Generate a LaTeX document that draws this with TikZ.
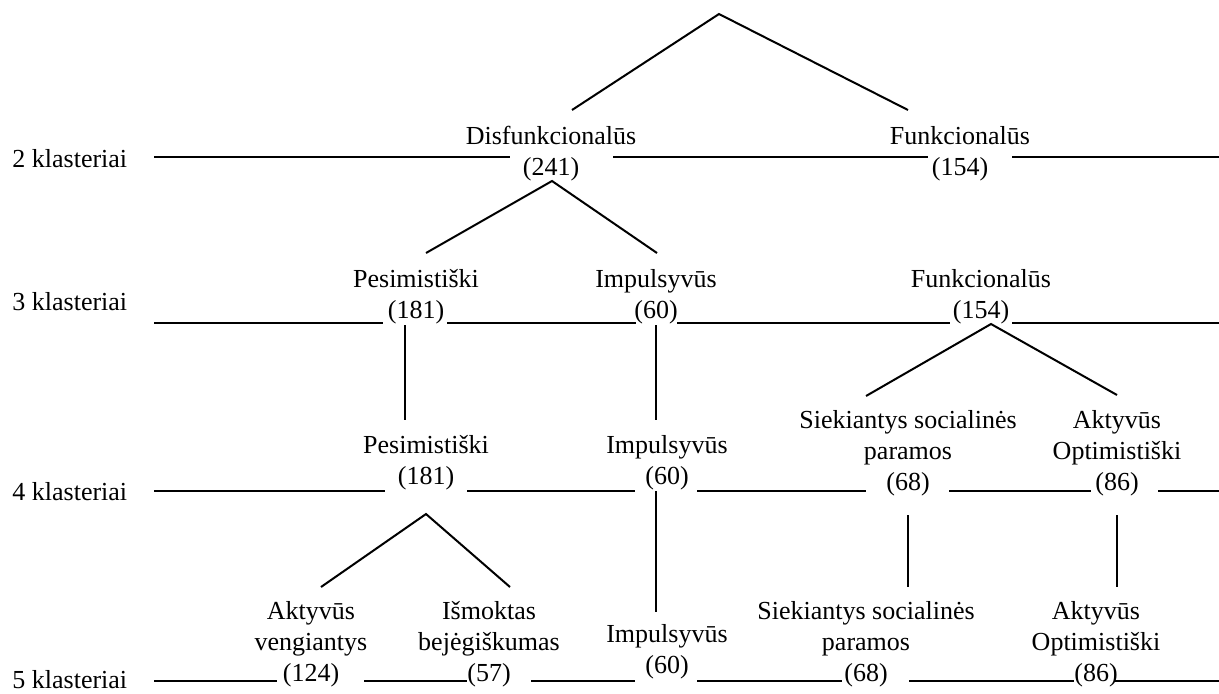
\documentclass[tikz,border=0pt]{standalone}
\usepackage{fontspec}
\setmainfont{Liberation Serif}
\tikzset{
  cluster/.style={align=center,inner sep=0pt,font=\fontsize{13}{15.5}\selectfont},
  levelname/.style={anchor=base west,inner sep=0pt,font=\fontsize{13}{15.5}\selectfont},
  branch/.style={line width=1pt},
  rule/.style={line width=1pt}
}
\begin{document}
\begin{tikzpicture}[x=0.5pt,y=-0.5pt]
  \useasboundingbox (0,0) rectangle (1219,693);
  % level names on the left
  \foreach \y/\n in {167/2,310/3,500/4,688/5}
    \node[levelname] (lvl\n) at (12,\y) {\n{} klasteriai};
  % horizontal rules of each level
  \foreach \y/\a/\b in {157/154/510, 157/613/928, 157/1012/1219,
      323/154/383, 323/447/636, 323/677/950, 323/1012/1219,
      491/154/385, 491/467/635, 491/697/866, 491/949/1091, 491/1158/1219,
      681/154/277, 681/364/467, 681/531/635, 681/697/842, 681/909/1074, 681/1115/1219}
    \draw[rule] (\a,\y) -- (\b,\y);

  % clusters
  \node[cluster] (dis2) at (551,154) {Disfunkcionalūs\\(241)};
  \node[cluster] (fun2) at (960,154) {Funkcionalūs\\(154)};

  \node[cluster] (pes3) at (416,297) {Pesimistiški\\(181)};
  \node[cluster] (imp3) at (656,297) {Impulsyvūs\\(60)};
  \node[cluster] (fun3) at (981,297) {Funkcionalūs\\(154)};

  \node[cluster] (pes4) at (426,463) {Pesimistiški\\(181)};
  \node[cluster] (imp4) at (667,463) {Impulsyvūs\\(60)};
  \node[cluster] (sie4) at (908,453) {Siekiantys socialinės\\paramos\\(68)};
  \node[cluster] (akt4) at (1117,453) {Aktyvūs\\Optimistiški\\(86)};

  \node[cluster] (akv5) at (311,644) {Aktyvūs\\vengiantys\\(124)};
  \node[cluster] (ism5) at (489,644) {Išmoktas\\bejėgiškumas\\(57)};
  \node[cluster] (imp5) at (667,652) {Impulsyvūs\\(60)};
  \node[cluster] (sie5) at (866,644) {Siekiantys socialinės\\paramos\\(68)};
  \node[cluster] (akt5) at (1096,644) {Aktyvūs\\Optimistiški\\(86)};

  % branch ends
  \coordinate (root) at (719,14);
  \coordinate (dis2-t) at (572,110);
  \coordinate (fun2-t) at (908,110);
  \coordinate (dis2-b) at (552,181);
  \coordinate (pes3-t) at (426,253);
  \coordinate (imp3-t) at (657,253);
  \coordinate (pes3-b) at (405,325);
  \coordinate (pes4-t) at (405,420);
  \coordinate (imp3-b) at (656,325);
  \coordinate (imp4-t) at (656,420);
  \coordinate (fun3-b) at (991,324);
  \coordinate (sie4-t) at (866,396);
  \coordinate (akt4-t) at (1117,395);
  \coordinate (pes4-b) at (426,514);
  \coordinate (akv5-t) at (321,587);
  \coordinate (ism5-t) at (510,587);
  \coordinate (imp4-b) at (656,491);
  \coordinate (imp5-t) at (656,612);
  \coordinate (sie4-b) at (908,515);
  \coordinate (sie5-t) at (908,587);
  \coordinate (akt4-b) at (1117,515);
  \coordinate (akt5-t) at (1117,587);

  % tree
  \draw[branch] (dis2-t) -- (root) -- (fun2-t);
  \draw[branch] (pes3-t) -- (dis2-b) -- (imp3-t);
  \draw[branch] (pes3-b) -- (pes4-t);
  \draw[branch] (imp3-b) -- (imp4-t);
  \draw[branch] (sie4-t) -- (fun3-b) -- (akt4-t);
  \draw[branch] (akv5-t) -- (pes4-b) -- (ism5-t);
  \draw[branch] (imp4-b) -- (imp5-t);
  \draw[branch] (sie4-b) -- (sie5-t);
  \draw[branch] (akt4-b) -- (akt5-t);
\end{tikzpicture}
\end{document}
